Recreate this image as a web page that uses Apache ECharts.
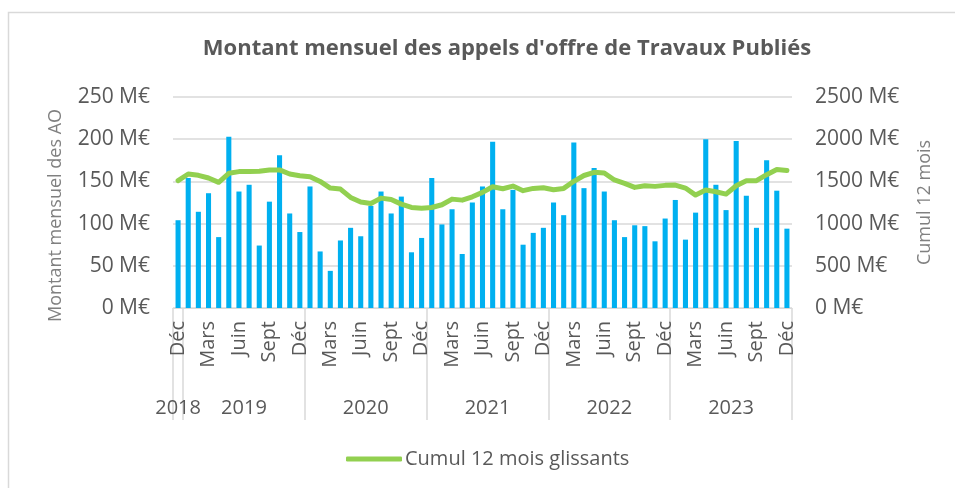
<!DOCTYPE html>
<html>
<head>
<meta charset="utf-8">
<script src="https://cdn.jsdelivr.net/npm/echarts@6/dist/echarts.min.js"></script>
<style>
  html, body { margin: 0; padding: 0; background: #fff; }
  #chart { width: 955px; height: 488px; }
</style>
</head>
<body>
<div id="chart"></div>
<script>
// ---- data ----
const monthLabels = [
  'Déc',
  'Janv','Févr','Mars','Avr','Mai','Juin','Juil','Août','Sept','Oct','Nov','Déc',
  'Janv','Févr','Mars','Avr','Mai','Juin','Juil','Août','Sept','Oct','Nov','Déc',
  'Janv','Févr','Mars','Avr','Mai','Juin','Juil','Août','Sept','Oct','Nov','Déc',
  'Janv','Févr','Mars','Avr','Mai','Juin','Juil','Août','Sept','Oct','Nov','Déc',
  'Janv','Févr','Mars','Avr','Mai','Juin','Juil','Août','Sept','Oct','Nov','Déc'
];
const years = ['2018', '2019', '2020', '2021', '2022', '2023'];
const yearMonthCounts = [1, 12, 12, 12, 12, 12];
const monthlyAmounts = [
  104,154,114,136,84,203,138,146,74,126,181,112,90,
  144,67,44,80,95,85,121,138,112,132,66,83,
  154,99,117,64,125,144,197,117,140,75,89,95,
  125,110,196,142,166,138,104,84,98,97,79,106,
  128,81,113,200,146,116,198,133,95,175,139,94
];
const rolling12 = [
  1510,1588,1572,1540,1489,1596,1616,1616,1620,1636,1636,1588,1568,
  1556,1500,1421,1409,1310,1255,1239,1302,1286,1231,1191,1183,
  1191,1223,1290,1278,1318,1370,1437,1413,1445,1390,1417,1425,
  1401,1417,1501,1570,1608,1600,1517,1477,1429,1449,1441,1453,
  1457,1421,1338,1397,1378,1350,1449,1509,1509,1580,1640,1628
];
const leftTicks = { min: 0, max: 250, interval: 50 };
const rightTicks = { min: 0, max: 2500, interval: 500 };
const seriesNames = ['Montant mensuel des AO', 'Cumul 12 mois glissants'];

// ---- build year axis categories ----
const yearCats = [];
const yearStarts = [];
years.forEach((y, i) => {
  yearStarts.push(yearCats.length);
  const n = yearMonthCounts[i];
  for (let k = 0; k < n; k++) yearCats.push(y + '|' + k + '|' + n);
});

const textColor = '#595959';
const nameColor = '#808080';
const gridColor = '#d9d9d9';
const FONT = 'Open Sans';

const chart = echarts.init(document.getElementById('chart'), null, { renderer: 'canvas' });
chart.setOption({
  animation: false,
  backgroundColor: '#fff',
  title: {
    text: "Montant mensuel des appels d'offre de Travaux Publiés",
    left: 502, top: 33, textAlign: 'center',
    textStyle: { fontFamily: FONT, fontSize: 22, fontWeight: 'bold', color: textColor }
  },
  graphic: [{
    type: 'rect', silent: true,
    shape: { x: 8.5, y: 12.5, width: 1200, height: 1200 },
    style: { fill: 'none', stroke: gridColor, lineWidth: 1.5 }
  }],
  legend: {
    data: [seriesNames[1]],
    left: 341, top: 444,
    icon: 'roundRect', itemWidth: 56, itemHeight: 5, itemGap: 10,
    textStyle: { fontFamily: FONT, fontSize: 20, color: textColor, padding: [0, 0, 0, -2] }
  },
  grid: { left: 173, right: 163, top: 97, bottom: 180, containLabel: false },
  xAxis: [{
    type: 'category', data: monthLabels, boundaryGap: true, position: 'bottom',
    axisLine: { show: true, lineStyle: { color: gridColor, width: 1 } },
    axisTick: { show: false },
    axisLabel: {
      interval: (i) => i % 3 === 0, rotate: 90, margin: 13,
      fontFamily: FONT, fontSize: 20, color: textColor
    }
  }, {
    type: 'category', data: yearCats, boundaryGap: true, position: 'bottom',
    axisLine: { show: false },
    axisTick: {
      show: true, length: 112, lineStyle: { color: gridColor, width: 1.5 },
      interval: (i) => yearStarts.indexOf(i) >= 0
    },
    axisLabel: {
      margin: 90, fontFamily: FONT, fontSize: 20, color: textColor,
      interval: (i, v) => { const p = v.split('|'); const n = +p[2]; return +p[1] === Math.floor((n - 1) / 2); },
      formatter: (v) => { const p = v.split('|'); return +p[2] % 2 === 0 ? '{e|' + p[0] + '}' : p[0]; },
      rich: { e: { padding: [0, 0, 0, 10], fontFamily: FONT, fontSize: 20, color: textColor } }
    }
  }],
  yAxis: [{
    type: 'value', min: leftTicks.min, max: leftTicks.max, interval: leftTicks.interval,
    name: 'Montant mensuel des AO', nameLocation: 'middle', nameGap: 108,
    nameTextStyle: { fontFamily: FONT, fontSize: 18, color: nameColor, padding: [0, 0, 0, -26] },
    axisLine: { show: false }, axisTick: { show: false },
    axisLabel: { margin: 23, fontFamily: FONT, fontSize: 21, color: textColor, formatter: (v) => v + ' M€' },
    splitLine: { show: true, lineStyle: { color: gridColor, width: 1.5 } }
  }, {
    type: 'value', min: rightTicks.min, max: rightTicks.max, interval: rightTicks.interval,
    name: 'Cumul 12 mois', nameLocation: 'middle', nameGap: 124,
    nameTextStyle: { fontFamily: FONT, fontSize: 18, color: nameColor },
    axisLine: { show: false }, axisTick: { show: false },
    axisLabel: { margin: 23, fontFamily: FONT, fontSize: 21, color: textColor, formatter: (v) => v + ' M€' },
    splitLine: { show: false }
  }],
  series: [{
    name: seriesNames[0], type: 'bar', xAxisIndex: 0, yAxisIndex: 0,
    data: monthlyAmounts, barWidth: '50%',
    itemStyle: { color: '#00B0F0' }
  }, {
    name: seriesNames[1], type: 'line', xAxisIndex: 0, yAxisIndex: 1,
    data: rolling12, symbol: 'none', smooth: false,
    lineStyle: { color: '#92D050', width: 5, cap: 'round', join: 'round' },
    itemStyle: { color: '#92D050' }
  }]
});
</script>
</body>
</html>
